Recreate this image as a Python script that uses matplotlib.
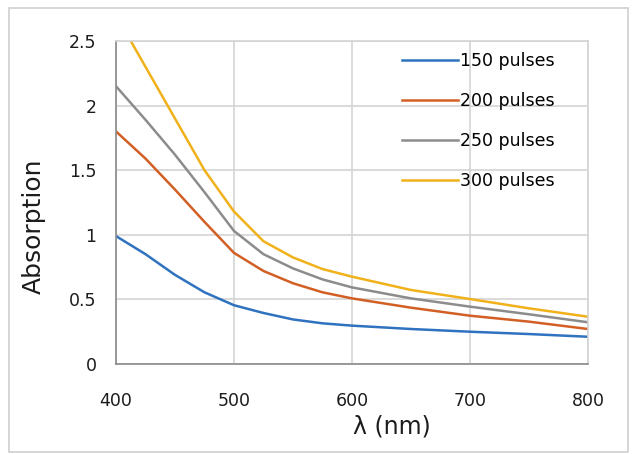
import matplotlib
matplotlib.use("Agg")
import matplotlib.pyplot as plt
from matplotlib.patches import Rectangle

# wavelength grid (nm)
wavelength = [400, 425, 450, 475, 500, 525, 550, 575, 600, 650, 700, 750, 800]

# absorption for each pulse count
abs_150 = [0.99, 0.85, 0.69, 0.555, 0.455, 0.395, 0.345, 0.315, 0.297, 0.271, 0.25, 0.232, 0.211]
abs_200 = [1.80, 1.59, 1.35, 1.10, 0.86, 0.72, 0.625, 0.555, 0.508, 0.436, 0.374, 0.328, 0.271]
abs_250 = [2.15, 1.89, 1.62, 1.33, 1.03, 0.85, 0.74, 0.655, 0.593, 0.508, 0.444, 0.385, 0.323]
abs_300 = [2.70, 2.30, 1.90, 1.50, 1.18, 0.95, 0.825, 0.735, 0.676, 0.573, 0.503, 0.431, 0.366]

labels = ["150 pulses", "200 pulses", "250 pulses", "300 pulses"]
colors = ["#2f72bf", "#d25f24", "#8c8c8c", "#f1b11a"]

plt.rcParams["font.family"] = ["DejaVu Sans"]
text_col = "#1c1c1c"

fig = plt.figure(figsize=(6.36, 4.54), dpi=100)
fig.patches.append(Rectangle((0.014, 0.004), 0.973, 0.978, transform=fig.transFigure,
                             fill=False, edgecolor="#d0d0d0", linewidth=1.2))

ax = fig.add_axes([0.1824, 0.1982, 0.742, 0.7115])

for ys, lab, c in zip([abs_150, abs_200, abs_250, abs_300], labels, colors):
	ax.plot(wavelength, ys, color=c, linewidth=1.8, label=lab)

ax.set_xlim(400, 800)
ax.set_ylim(0, 2.5)
ax.set_xticks([400, 500, 600, 700, 800])
ax.set_yticks([0, 0.5, 1, 1.5, 2, 2.5])
ax.set_yticklabels(["0", "0.5", "1", "1.5", "2", "2.5"])
ax.tick_params(length=0, labelsize=12.5, colors=text_col)
ax.tick_params(axis="x", pad=20)
ax.tick_params(axis="y", pad=14)

ax.grid(True, color="#d4d4d4", linewidth=1.2)
ax.set_axisbelow(True)
for side in ["top", "right"]:
	ax.spines[side].set_color("#d4d4d4")
	ax.spines[side].set_linewidth(1.2)
for side in ["left", "bottom"]:
	ax.spines[side].set_color("#8a8a8a")
	ax.spines[side].set_linewidth(1.2)

ax.set_xlabel("λ (nm)", fontsize=17, color=text_col, va="center")
ax.xaxis.set_label_coords(0.585, -0.192)
ax.set_ylabel("Absorption", fontsize=18, color=text_col, va="center")
ax.yaxis.set_label_coords(-0.174, 0.427)

ax.legend(loc="upper left", frameon=False, fontsize=12.5, handlelength=3.2,
		  handletextpad=0.15, labelspacing=1.27, borderpad=0, borderaxespad=0,
		  bbox_to_anchor=(0.606, 0.966))

fig.savefig("out.png", dpi=100)
